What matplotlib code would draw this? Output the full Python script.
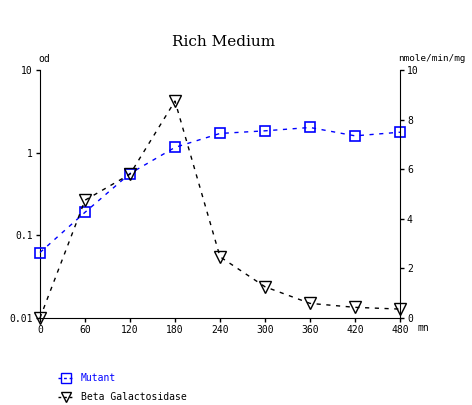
import matplotlib.pyplot as plt
import numpy as np

temps = [0, 60, 120, 180, 240, 300, 360, 420, 480]
mutant_od = [0.062, 0.19, 0.56, 1.16, 1.71, 1.84, 2.02, 1.60, 1.77]
beta_gal = [0.0, 4.75, 5.8, 8.75, 2.47, 1.26, 0.59, 0.43, 0.36]

plt.rcParams['font.family'] = 'DejaVu Sans Mono'

fig = plt.figure(figsize=(4.72, 4.05), dpi=100)
ax1 = fig.add_axes([0.0847, 0.2148, 0.7628, 0.6122])
ax2 = ax1.twinx()

ax1.plot(temps, mutant_od, color='blue', linestyle=(0, (3, 4)), linewidth=1,
         marker='s', markersize=7.5, markerfacecolor='none', markeredgecolor='blue',
         markeredgewidth=1.2, clip_on=False, zorder=3)
ax2.plot(temps, beta_gal, color='black', linestyle=(0, (3, 4)), linewidth=1,
         marker='v', markersize=8, markerfacecolor='none', markeredgecolor='black',
         markeredgewidth=1.0, clip_on=False)

ax1.set_yscale('log')
ax1.set_ylim(0.01, 10)
ax1.set_yticks([0.01, 0.1, 1, 10])
ax1.set_yticklabels(['0.01', '0.1', '1', '10'])
ax1.minorticks_off()
ax1.set_xlim(0, 480)
ax1.set_xticks(temps)
ax2.set_ylim(0, 10)
ax2.set_yticks([0, 2, 4, 6, 8, 10])

for ax in (ax1, ax2):
    ax.spines['top'].set_visible(False)
    ax.tick_params(labelsize=7, length=3, width=1, pad=2)
ax1.spines['right'].set_visible(False)
ax2.spines['left'].set_visible(False)
ax2.spines['bottom'].set_visible(False)
ax2.spines['right'].set_visible(True)

fig.text(0.474, 0.897, 'Rich Medium', ha='center', va='center', fontsize=11,
         family='DejaVu Serif')
fig.text(0.082, 0.855, 'od', ha='left', va='center', fontsize=7)
fig.text(0.843, 0.855, 'nmole/min/mg', ha='left', va='center', fontsize=6.7)
fig.text(0.885, 0.19, 'mn', ha='left', va='center', fontsize=7)

h1 = plt.Line2D([], [], color='blue', linestyle=(0, (2, 2)), linewidth=1, marker='s',
                markersize=7, markerfacecolor='none', markeredgecolor='blue')
h2 = plt.Line2D([], [], color='black', linestyle=(0, (2, 2)), linewidth=1, marker='v',
                markersize=7.5, markerfacecolor='none', markeredgecolor='black')
leg = fig.legend([h1, h2], ['Mutant', 'Beta Galactosidase'], loc='upper left',
                 bbox_to_anchor=(0.105, 0.1), frameon=False, fontsize=7,
                 handlelength=1.5, labelspacing=0.9)
leg.get_texts()[0].set_color('blue')

fig.savefig('out.png', dpi=100)
